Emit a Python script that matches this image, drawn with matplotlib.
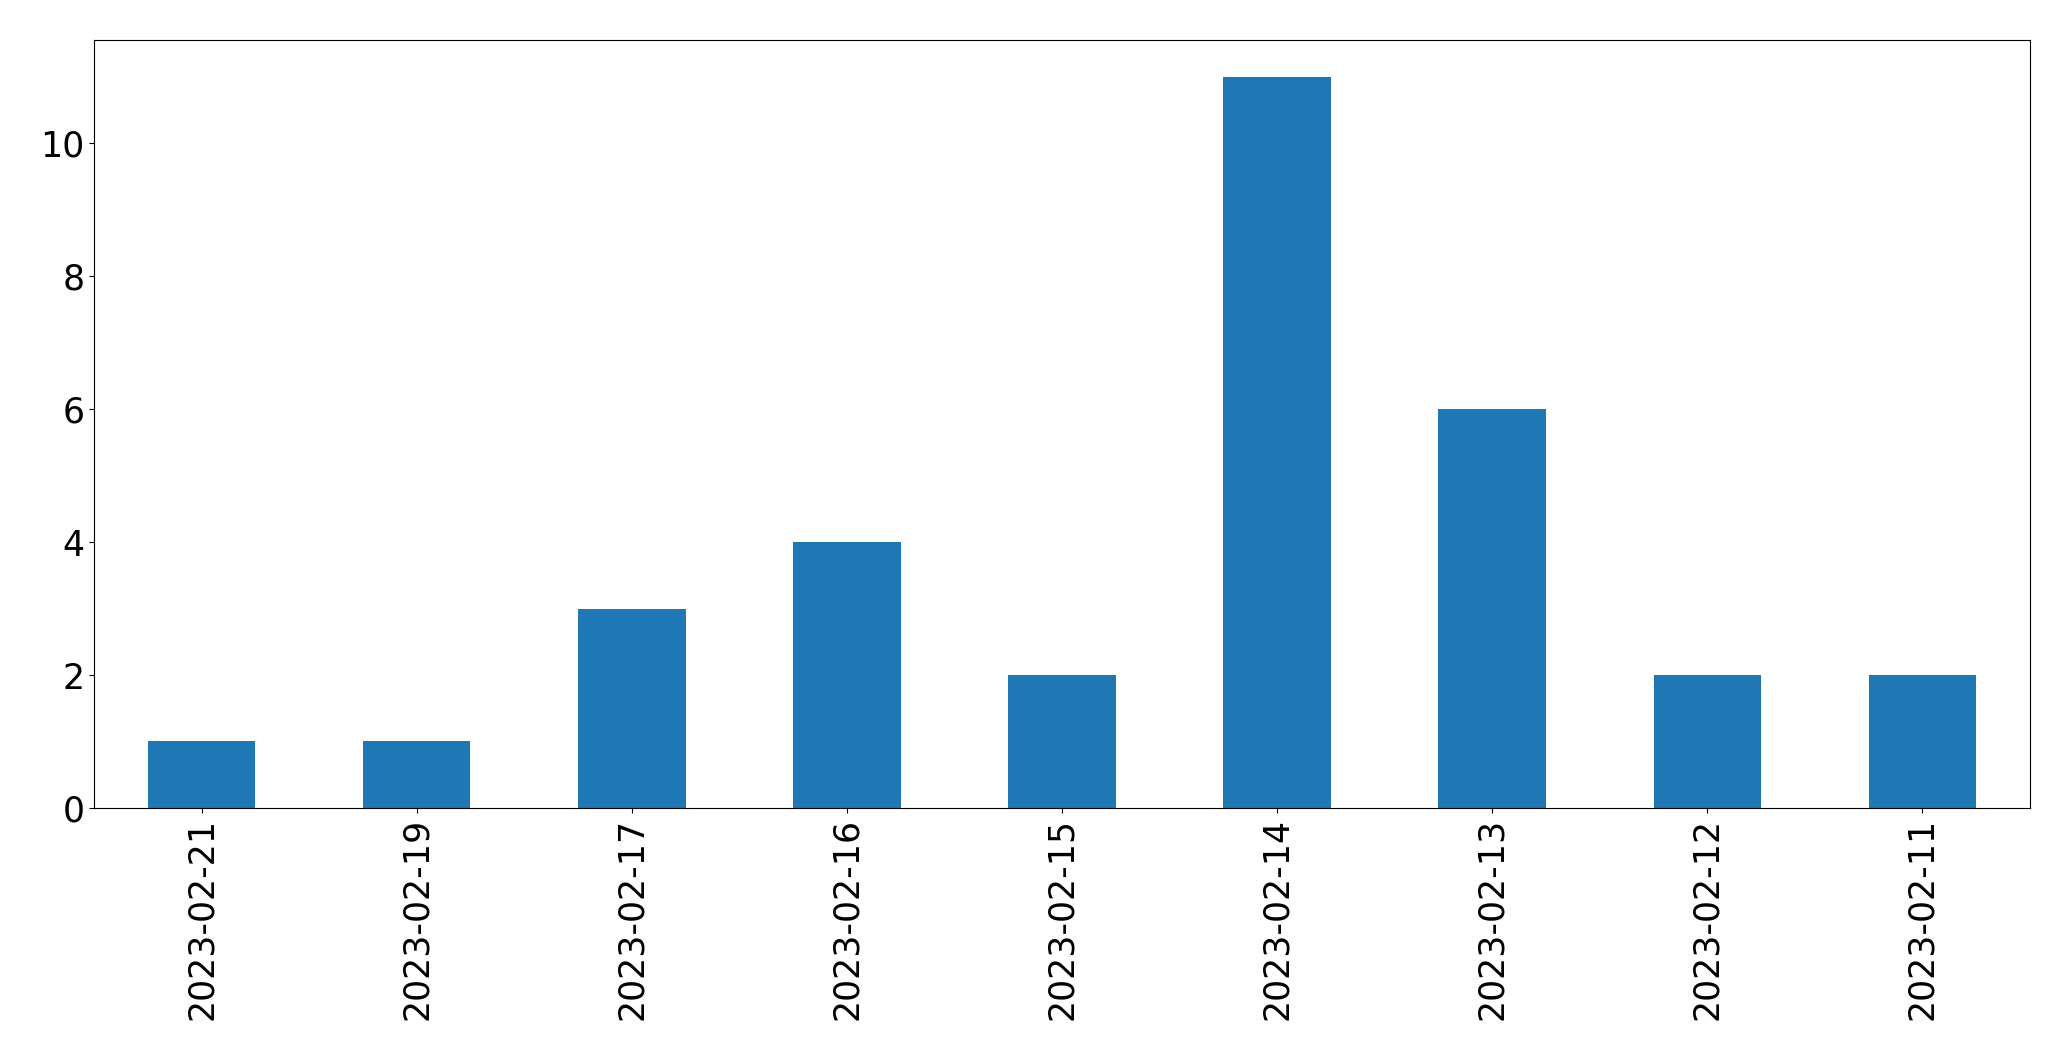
import matplotlib
matplotlib.use("Agg")
import matplotlib.pyplot as plt

dates = ["2023-02-21", "2023-02-19", "2023-02-17", "2023-02-16", "2023-02-15",
         "2023-02-14", "2023-02-13", "2023-02-12", "2023-02-11"]
counts = [1, 1, 3, 4, 2, 11, 6, 2, 2]

fig = plt.figure(figsize=(20.71, 10.61), dpi=100)
ax = fig.add_axes([0.0454, 0.2385, 0.9348, 0.7235])
x = list(range(len(dates)))
ax.bar(x, counts, width=0.5, color="#1f77b4")
ax.set_xlim(-0.5, len(dates) - 0.5)
ax.set_ylim(0, 11.55)
ax.set_xticks(x)
ax.set_xticklabels(dates, rotation=90)
ax.tick_params(labelsize=25)
fig.savefig("out.png", dpi=100)
